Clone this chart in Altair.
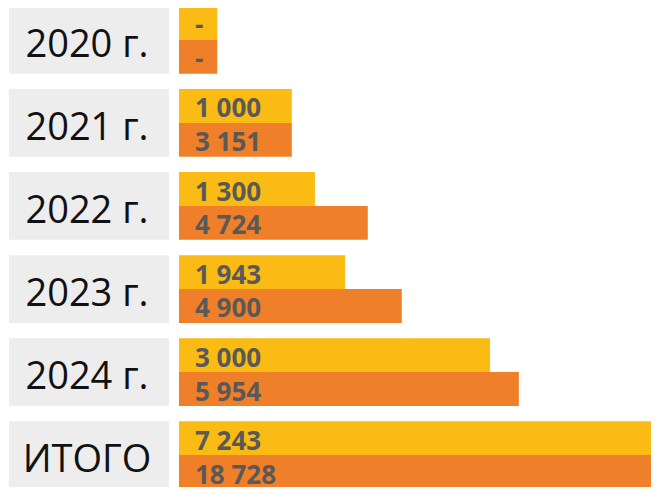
import altair as alt
import pandas as pd

# ---- data ----
categories = ["2020 г.", "2021 г.", "2022 г.", "2023 г.", "2024 г.", "ИТОГО"]
plan_labels = ["-", "1 000", "1 300", "1 943", "3 000", "7 243"]
fact_labels = ["-", "3 151", "4 724", "4 900", "5 954", "18 728"]
# drawn bar lengths (relative units, 100 = full panel width), as shown in the picture
plan_len = [8.1, 23.9, 28.8, 35.2, 65.9, 100]
fact_len = [8.1, 23.9, 40.0, 47.2, 72.0, 100]

series = ["plan", "fact"]
YELLOW = "#FABB14"
ORANGE = "#EF7F29"
BOX = "#EDEDED"

rows = []
for i, c in enumerate(categories):
    rows.append({"cat": c, "series": "plan", "len": plan_len[i], "label": plan_labels[i]})
    rows.append({"cat": c, "series": "fact", "len": fact_len[i], "label": fact_labels[i]})
bars_df = pd.DataFrame(rows)
cats_df = pd.DataFrame({"cat": categories})

H = 483
PAD_INNER = 0.184

yenc = alt.Y("cat:N", sort=categories, axis=None,
             scale=alt.Scale(paddingInner=PAD_INNER, paddingOuter=0))

# ---- left panel: grey label boxes ----
left_base = alt.Chart(cats_df).encode(y=yenc)
boxes = left_base.mark_rect(color=BOX).encode(x=alt.value(0), x2=alt.value(160))
box_text = left_base.mark_text(font="Open Sans", fontSize=38,
                               color="#111111", align="center", baseline="middle",
                               dy=6).encode(x=alt.value(78), text="cat:N")
left = (boxes + box_text).properties(width=160, height=H)

# ---- right panel: paired bars ----
right_base = alt.Chart(bars_df).encode(
    y=yenc,
    yOffset=alt.YOffset("series:N", sort=series,
                        scale=alt.Scale(domain=series, paddingInner=0, paddingOuter=0)),
)
bars = right_base.mark_bar(clip=True).encode(
    x=alt.X("len:Q", axis=None, scale=alt.Scale(domain=[0, 100])),
    color=alt.Color("series:N", legend=None,
                    scale=alt.Scale(domain=series, range=[YELLOW, ORANGE])),
)
labels = right_base.mark_text(font="Open Sans", fontWeight="bold", fontSize=26,
                              color="#595959", align="left", baseline="middle",
                              dy=3.5).encode(x=alt.value(16), text="label:N")
right = (bars + labels).properties(width=472, height=H)

chart = alt.hconcat(left, right, spacing=10).properties(
    padding={"left": 1, "top": -2, "right": 0, "bottom": -2}
).configure_view(stroke=None)

chart.save("out.html", embed_options={"renderer": "svg", "actions": False})
